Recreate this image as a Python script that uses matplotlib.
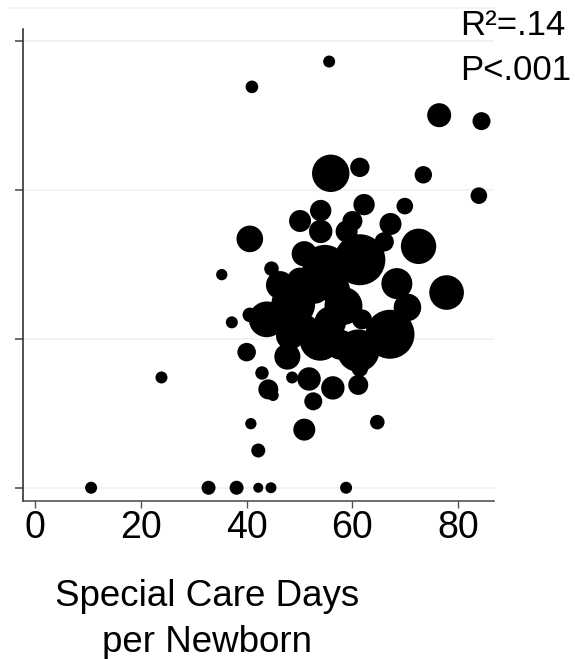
import numpy as np
import matplotlib.pyplot as plt
from matplotlib.lines import Line2D

plt.rcParams['font.family'] = ['Liberation Sans', 'DejaVu Sans']

# Data: special care days per newborn vs. outcome (unlabeled y), bubble weight
days = [10.6, 32.8, 38.1, 42.2, 44.6, 58.8,
        41.0, 55.6, 76.4, 84.4, 55.9, 61.4, 73.4, 83.9, 54.0, 62.2, 69.9,
        50.1, 60.0, 67.2, 54.0, 58.9, 40.6, 66.0, 72.5, 44.7, 35.3,
        50.9, 61.4, 54.8, 68.4, 70.4, 77.8, 48.8, 43.8, 40.6, 37.2, 52.9,
        58.3, 61.8, 67.1, 61.1, 53.9, 47.7, 40.0, 55.8, 61.4,
        46.3, 57.7, 51.0, 56.7, 50.1, 48.2,
        23.9, 42.9, 44.1, 45.0, 48.6, 51.8, 56.3, 52.6, 61.1, 40.8, 50.9,
        64.7, 42.2]
outcome = [0.0, 0.0, 0.0, 0.0, 0.0, 0.0,
           2.69, 2.86, 2.50, 2.46, 2.11, 2.15, 2.10, 1.96, 1.86, 1.90, 1.89,
           1.79, 1.79, 1.77, 1.72, 1.72, 1.67, 1.65, 1.62, 1.47, 1.43,
           1.57, 1.53, 1.48, 1.37, 1.21, 1.31, 1.23, 1.13, 1.16, 1.11, 1.33,
           1.22, 1.13, 1.03, 0.92, 0.99, 0.88, 0.91, 1.11, 0.80,
           1.36, 0.96, 1.06, 1.33, 1.39, 1.02,
           0.74, 0.77, 0.66, 0.62, 0.74, 0.73, 0.67, 0.58, 0.69, 0.43, 0.39,
           0.44, 0.25]
weight = [36, 49, 49, 25, 30, 36,
          40, 36, 144, 81, 350, 94, 76, 69, 114, 114, 69,
          121, 100, 121, 137, 121, 177, 94, 313, 53, 32,
          160, 650, 500, 240, 190, 300, 480, 320, 53, 36, 200,
          360, 100, 600, 450, 420, 170, 86, 250, 69,
          196, 225, 225, 225, 170, 196,
          36, 45, 100, 32, 36, 137, 137, 81, 100, 32, 121,
          53, 49]

y_ticks = [0, 1, 2, 3]
x_ticks = [0, 20, 40, 60, 80]

fig = plt.figure(figsize=(5.75, 6.59), dpi=100)
ax = fig.add_axes([0.0395, 0.2402, 0.8197, 0.7476])

sizes = np.array(weight) * (2 * 72 / 100) ** 2
ax.scatter(days, outcome, s=sizes, color='black', edgecolors='none', zorder=3)

ax.set_xlim(-2.33, 86.77)
ax.set_ylim(-0.087, 3.219)
ax.set_xticks(x_ticks)
ax.set_yticks(y_ticks)
ax.set_yticklabels([])
ax.tick_params(axis='x', labelsize=27, length=5, width=1, color='#555555', pad=2)
ax.tick_params(axis='y', length=5.5, width=1.2, color='#555555')
for y in y_ticks:
    ax.axhline(y, color='#eaf2f3', linewidth=1.1, zorder=1)

for side in ['top', 'right']:
    ax.spines[side].set_visible(False)
ax.spines['left'].set_bounds(-0.087, 3.078)
ax.spines['left'].set_color('#222222')
ax.spines['bottom'].set_color('#444444')
ax.spines['left'].set_linewidth(1.1)
ax.spines['bottom'].set_linewidth(1.1)

# faint outer line at the top of the plot region
fig.add_artist(Line2D([9 / 575, 495 / 575], [1 - 8 / 659, 1 - 8 / 659],
                      color='#eef3f4', linewidth=1.1))

fig.text(207 / 575, 1 - 606 / 659, 'Special Care Days', ha='center',
         va='baseline', fontsize=26.5)
fig.text(207 / 575, 1 - 652 / 659, 'per Newborn', ha='center',
         va='baseline', fontsize=26.5)

fig.text(460 / 575, 1 - 35 / 659, 'R²=.14', ha='left', va='baseline', fontsize=25)
fig.text(460 / 575, 1 - 80 / 659, 'P<.001', ha='left', va='baseline', fontsize=25)

plt.savefig('out.png', dpi=100)
